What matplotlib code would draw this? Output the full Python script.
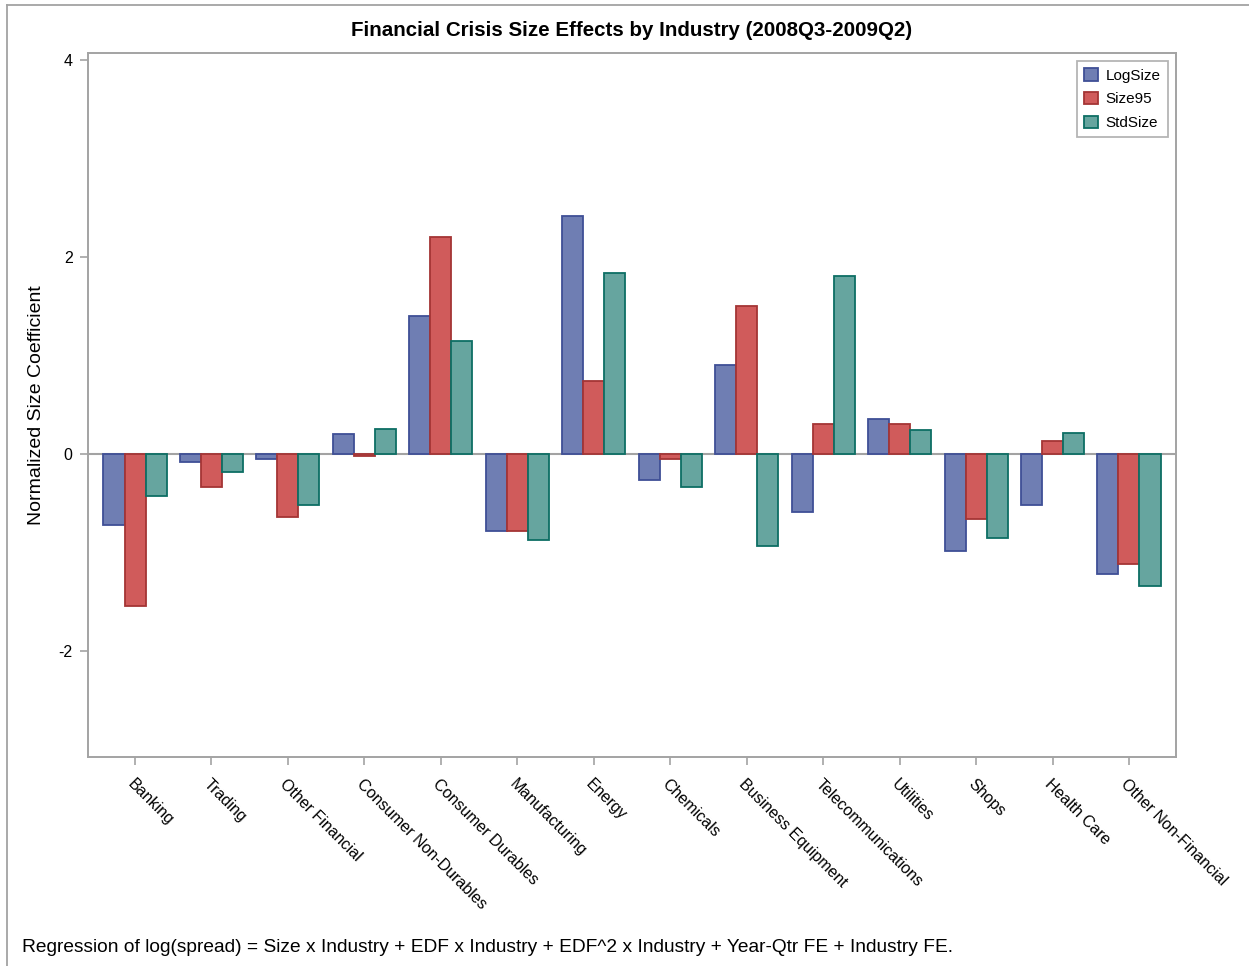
import matplotlib
matplotlib.use("Agg")
import matplotlib.pyplot as plt
from matplotlib.lines import Line2D
from matplotlib.patches import Patch
import numpy as np

industries = ["Banking", "Trading", "Other Financial", "Consumer Non-Durables",
              "Consumer Durables", "Manufacturing", "Energy", "Chemicals",
              "Business Equipment", "Telecommunications", "Utilities", "Shops",
              "Health Care", "Other Non-Financial"]

log_size = [-0.72, -0.08, -0.05, 0.20, 1.40, -0.78, 2.41, -0.26,
            0.90, -0.59, 0.36, -0.98, -0.52, -1.21]
size95 = [-1.54, -0.33, -0.64, -0.02, 2.20, -0.78, 0.74, -0.05,
          1.50, 0.31, 0.31, -0.66, 0.13, -1.11]
std_size = [-0.42, -0.18, -0.52, 0.26, 1.15, -0.87, 1.84, -0.33,
            -0.93, 1.81, 0.25, -0.85, 0.21, -1.34]

series_names = ["LogSize", "Size95", "StdSize"]
y_ticks = [-2, 0, 2, 4]

title = "Financial Crisis Size Effects by Industry (2008Q3-2009Q2)"
y_label = "Normalized Size Coefficient"
footnote = ("Regression of log(spread) = Size x Industry + EDF x Industry + "
            "EDF^2 x Industry + Year-Qtr FE + Industry FE.")

fills = ["#6F7EB3", "#D05B5B", "#66A59F"]
edges = ["#3F4F96", "#A43535", "#0D6E64"]
axis_grey = "#A3A3A3"

plt.rcParams["font.family"] = ["Liberation Sans", "DejaVu Sans"]

W, H = 1249, 966
fig = plt.figure(figsize=(W / 100, H / 100), dpi=100)
ax = fig.add_axes([88 / W, 1 - 757 / H, (1176 - 88) / W, (757 - 52.7) / H])

x = np.arange(len(industries))
bw = 0.275
for i, (vals, fc, ec) in enumerate(zip([log_size, size95, std_size], fills, edges)):
    ax.bar(x + (i - 1) * bw, vals, width=bw, color=fc, edgecolor=ec,
           linewidth=1.3, zorder=3)

ax.axhline(0, color=axis_grey, linewidth=1.5, zorder=2)

ax.set_xlim(-0.615, len(industries) - 1 + 0.615)
ax.set_ylim(-3.07, 4.07)
ax.set_yticks(y_ticks)
ax.set_yticklabels([str(t) for t in y_ticks], fontsize=11.5)
ax.set_xticks(x)
ax.set_xticklabels(industries, rotation=-45, ha="left", va="top",
                   rotation_mode="anchor", fontsize=11.5)
ax.tick_params(axis="both", color=axis_grey, length=6, width=1.2,
               direction="out", pad=5, labelcolor="black")
ax.tick_params(axis="x", pad=8)
for sp in ax.spines.values():
    sp.set_color(axis_grey)
    sp.set_linewidth(1.4)

ax.set_ylabel(y_label, fontsize=14, labelpad=10)
ax.set_title(title, fontsize=14.8, fontweight="bold", pad=12)

handles = [Patch(facecolor=fc, edgecolor=ec, linewidth=1.3)
           for fc, ec in zip(fills, edges)]
leg = ax.legend(handles, series_names, loc="upper right", fontsize=11,
                frameon=True, fancybox=False, handlelength=0.9,
                handleheight=0.9, handletextpad=0.5, borderpad=0.45,
                labelspacing=0.6, borderaxespad=0.55)
leg.get_frame().set_edgecolor(axis_grey)
leg.get_frame().set_linewidth(1.3)

fig.text(22 / W, 1 - 948 / H, footnote, fontsize=13.8, va="center", ha="left")

# outer frame: top edge and left edge
fig.add_artist(Line2D([7 / W, 1.0], [1 - 5 / H, 1 - 5 / H],
                      transform=fig.transFigure, color=axis_grey, linewidth=1.3))
fig.add_artist(Line2D([7 / W, 7 / W], [1 - 5 / H, 0.0],
                      transform=fig.transFigure, color=axis_grey, linewidth=1.3))

fig.savefig("out.png", dpi=100, facecolor="white")
